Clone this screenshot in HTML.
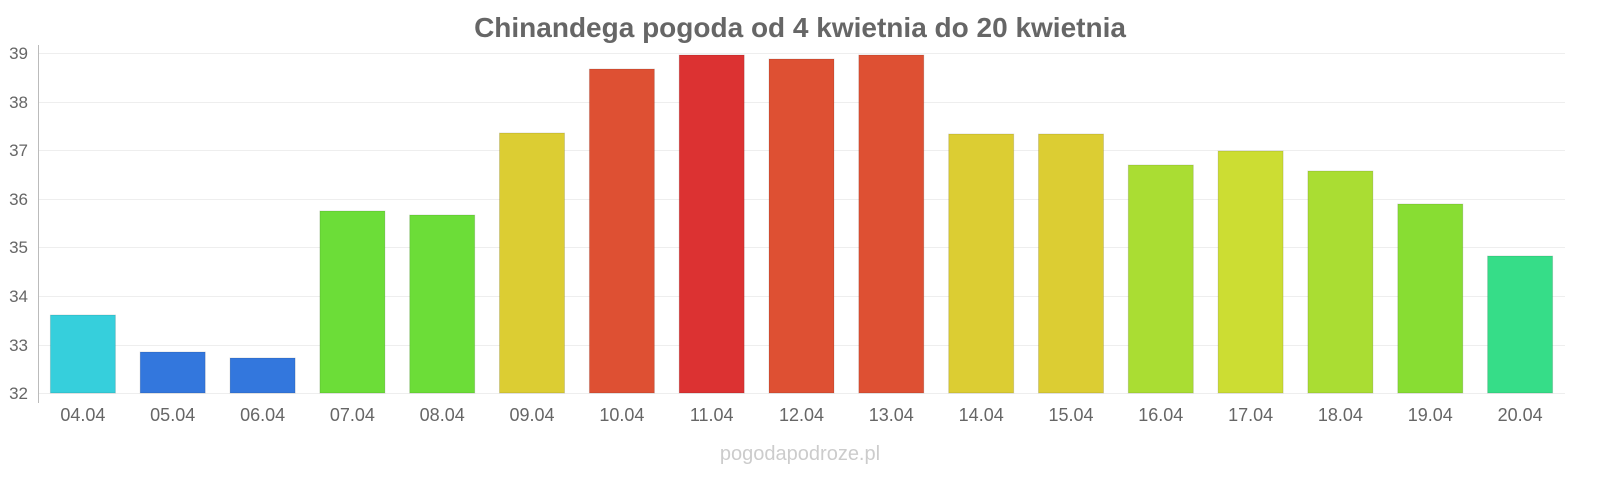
<!DOCTYPE html>
<html><head><meta charset="utf-8"><style>
html,body{margin:0;padding:0;background:#fff;}
body{width:1600px;height:480px;overflow:hidden;}
</style></head><body>
<svg width="1600" height="480" xmlns="http://www.w3.org/2000/svg" font-family="Liberation Sans, sans-serif">
<text x="800" y="37" text-anchor="middle" font-size="28" font-weight="bold" fill="#666">Chinandega pogoda od 4 kwietnia do 20 kwietnia</text>
<g stroke="#eeeeee" stroke-width="1">
<line x1="38" x2="1565" y1="53.5" y2="53.5"/>
<line x1="38" x2="1565" y1="102.5" y2="102.5"/>
<line x1="38" x2="1565" y1="150.5" y2="150.5"/>
<line x1="38" x2="1565" y1="199.5" y2="199.5"/>
<line x1="38" x2="1565" y1="247.5" y2="247.5"/>
<line x1="38" x2="1565" y1="296.5" y2="296.5"/>
<line x1="38" x2="1565" y1="345.5" y2="345.5"/>
<line x1="38" x2="1565" y1="393.5" y2="393.5"/>
</g>
<line x1="38.5" x2="38.5" y1="45" y2="403" stroke="#bbb"/>
<g font-size="17" fill="#666" text-anchor="end">
<text x="28" y="59">39</text><text x="28" y="108">38</text><text x="28" y="156">37</text>
<text x="28" y="205">36</text><text x="28" y="253">35</text><text x="28" y="302">34</text>
<text x="28" y="351">33</text><text x="28" y="399">32</text>
</g>
<g stroke="rgba(0,0,0,0.12)" stroke-width="1">
<rect x="50.4" y="315" width="65" height="78" fill="#36cfdc"/>
<rect x="140.2" y="352" width="65" height="41" fill="#3377dd"/>
<rect x="230.1" y="358" width="65" height="35" fill="#3377dd"/>
<rect x="319.9" y="211" width="65" height="182" fill="#6cdd38"/>
<rect x="409.7" y="215" width="65" height="178" fill="#6cdd38"/>
<rect x="499.5" y="133" width="65" height="260" fill="#dccd33"/>
<rect x="589.4" y="69" width="65" height="324" fill="#de5033"/>
<rect x="679.2" y="55" width="65" height="338" fill="#dc3232"/>
<rect x="769.0" y="59" width="65" height="334" fill="#de5033"/>
<rect x="858.8" y="55" width="65" height="338" fill="#de5033"/>
<rect x="948.7" y="134" width="65" height="259" fill="#dccd33"/>
<rect x="1038.5" y="134" width="65" height="259" fill="#dccd33"/>
<rect x="1128.3" y="165" width="65" height="228" fill="#aadd33"/>
<rect x="1218.1" y="151" width="65" height="242" fill="#ccdd33"/>
<rect x="1307.9" y="171" width="65" height="222" fill="#aadd33"/>
<rect x="1397.8" y="204" width="65" height="189" fill="#88dd33"/>
<rect x="1487.6" y="256" width="65" height="137" fill="#36dd88"/>
</g>
<g font-size="18" fill="#666" text-anchor="middle">
<text x="82.9" y="421">04.04</text><text x="172.7" y="421">05.04</text><text x="262.6" y="421">06.04</text>
<text x="352.4" y="421">07.04</text><text x="442.2" y="421">08.04</text><text x="532.0" y="421">09.04</text>
<text x="621.9" y="421">10.04</text><text x="711.7" y="421">11.04</text><text x="801.5" y="421">12.04</text>
<text x="891.3" y="421">13.04</text><text x="981.2" y="421">14.04</text><text x="1071.0" y="421">15.04</text>
<text x="1160.8" y="421">16.04</text><text x="1250.6" y="421">17.04</text><text x="1340.4" y="421">18.04</text>
<text x="1430.3" y="421">19.04</text><text x="1520.1" y="421">20.04</text>
</g>
<text x="800" y="460" text-anchor="middle" font-size="20" fill="#ccc">pogodapodroze.pl</text>
</svg>
</body></html>
